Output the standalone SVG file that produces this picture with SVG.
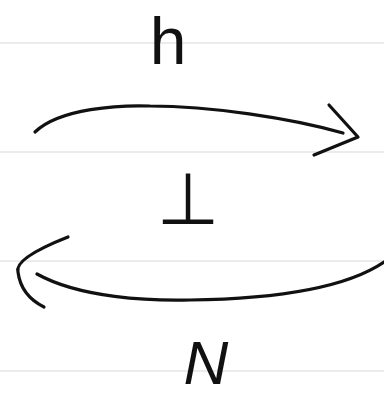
<svg xmlns="http://www.w3.org/2000/svg" width="384" height="398" viewBox="0 0 384 398">
<style>
.rule{stroke:#e4e4e4;stroke-width:1.5}
.ink{fill:none;stroke:#111;stroke-width:3.2;stroke-linecap:round;stroke-linejoin:round}
.lbl{fill:#111;font-family:"Liberation Sans","DejaVu Sans",sans-serif;text-anchor:middle}
</style>
<rect width="384" height="398" fill="#fff"/>
<g id="paper">
<line class="rule" x1="0" y1="43" x2="384" y2="43"/>
<line class="rule" x1="0" y1="152" x2="384" y2="152"/>
<line class="rule" x1="0" y1="261" x2="384" y2="261"/>
<line class="rule" x1="0" y1="371" x2="384" y2="371"/>
</g>
<g id="connectors">
<path class="ink" d="M35,132 C60,108 120,105 150,106 C210,106 290,118 343,133"/>
<path class="ink" d="M329,105 L358,137 L314,155"/>
<path class="ink" d="M37,274 C80,298 150,301 190,300 C260,299 340,292 384,262"/>
<path class="ink" d="M68,237 C35,250 15,262 18,272 C20,288 30,300 44,307"/>
</g>
<g id="label-h"><text class="lbl" x="168" y="64" font-size="66">h</text></g>
<g id="label-bot"><text class="lbl" x="188" y="224" font-size="72" style="font-family:'DejaVu Sans',sans-serif">⊥</text></g>
<g id="label-N"><text class="lbl" x="206" y="384" font-size="62" font-style="italic">N</text></g>
</svg>
